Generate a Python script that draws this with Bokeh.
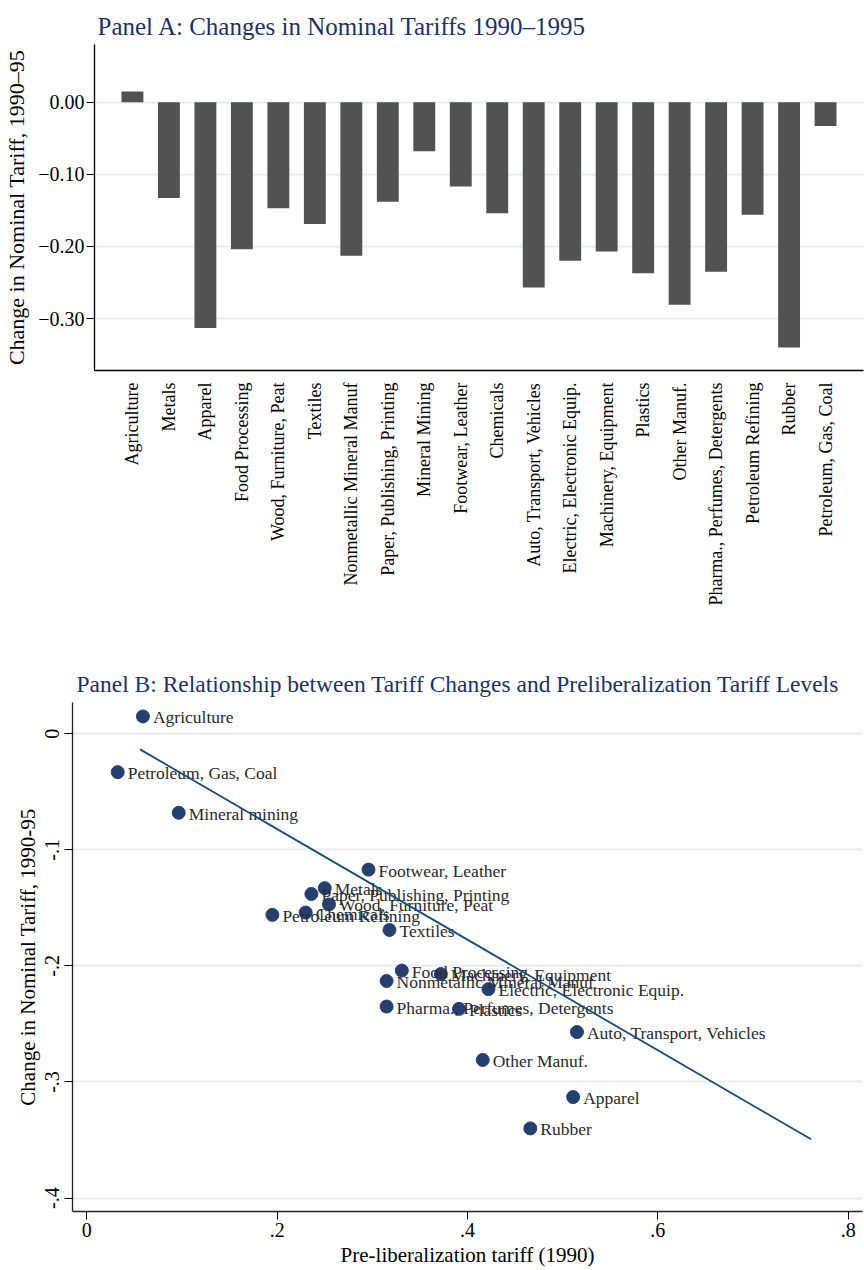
import math
from bokeh.plotting import figure
from bokeh.models import ColumnDataSource, FixedTicker, Range1d
from bokeh.embed import file_html
from bokeh.resources import INLINE
from bokeh.core.properties import value

# ---------------- data ----------------
sectors = [
    "Agriculture", "Metals", "Apparel", "Food Processing", "Wood, Furniture, Peat",
    "Textiles", "Nonmetallic Mineral Manuf", "Paper, Publishing, Printing",
    "Mineral Mining", "Footwear, Leather", "Chemicals", "Auto, Transport, Vehicles",
    "Electric, Electronic Equip.", "Machinery, Equipment", "Plastics", "Other Manuf.",
    "Pharma., Perfumes, Detergents", "Petroleum Refining", "Rubber", "Petroleum, Gas, Coal",
]
tariff_change = [
    0.015, -0.133, -0.313, -0.204, -0.147,
    -0.169, -0.213, -0.138,
    -0.068, -0.117, -0.154, -0.257,
    -0.220, -0.207, -0.237, -0.281,
    -0.235, -0.156, -0.340, -0.033,
]
b_labels = [
    "Agriculture", "Metals", "Apparel", "Food Processing", "Wood, Furniture, Peat",
    "Textiles", "Nonmetallic Mineral Manuf", "Paper, Publishing, Printing",
    "Mineral mining", "Footwear, Leather", "Chemicals", "Auto, Transport, Vehicles",
    "Electric, Electronic Equip.", "Machinery, Equipment", "Plastics", "Other Manuf.",
    "Pharma., Perfumes, Detergents", "Petroleum Refining", "Rubber", "Petroleum, Gas, Coal",
]
pre_tariff = [
    0.059, 0.250, 0.511, 0.331, 0.2545,
    0.318, 0.315, 0.236,
    0.0966, 0.296, 0.230, 0.515,
    0.422, 0.372, 0.391, 0.416,
    0.315, 0.195, 0.466, 0.0325,
]
fit_x = [0.056, 0.761]
fit_y = [-0.0134, -0.3494]

a_yticks = [0.0, -0.1, -0.2, -0.3]
a_ytick_labels = ["0.00", "\u22120.10", "\u22120.20", "\u22120.30"]
b_xticks = [0.0, 0.2, 0.4, 0.6, 0.8]
b_xtick_labels = ["0", ".2", ".4", ".6", ".8"]
b_yticks = [0.0, -0.1, -0.2, -0.3, -0.4]
b_ytick_labels = ["0", "-.1", "-.2", "-.3", "-.4"]

# ---------------- style ----------------
FONT = "Liberation Serif"
TITLE_COLOR = "#1f3160"
GRID = "#e6eef1"
BAR = "#525252"
DOT = "#26406e"
FIT = "#1a4a78"

# ---------------- Panel A ----------------
idx = list(range(len(sectors)))
src_a = ColumnDataSource(dict(x=idx, top=tariff_change, name=sectors))

pA = figure(width=864, height=640,
            x_range=Range1d(-1.04, len(sectors) - 1 + 1.04),
            y_range=Range1d(-0.372, 0.08),
            output_backend="svg", toolbar_location=None,
            min_border_left=94, min_border_right=1, min_border_top=44, min_border_bottom=270)
pA.vbar(x="x", top="top", bottom=0, width=0.6, source=src_a,
        fill_color=BAR, line_color=None)

pA.title.text = "Panel A: Changes in Nominal Tariffs 1990\u20131995"
pA.title.align = "left"
pA.title.offset = 3
pA.title.text_font = FONT
pA.title.text_font_size = "25px"
pA.title.text_font_style = "normal"
pA.title.text_color = TITLE_COLOR
pA.title.standoff = 10

pA.outline_line_color = None
pA.background_fill_color = "white"
pA.border_fill_color = "white"
pA.xgrid.visible = False
pA.ygrid.grid_line_color = GRID
pA.ygrid.grid_line_width = 2

pA.xaxis.ticker = FixedTicker(ticks=idx)
pA.xaxis.major_label_overrides = {i: s for i, s in zip(idx, sectors)}
pA.xaxis.major_label_orientation = math.pi / 2
pA.xaxis.major_label_text_font = FONT
pA.xaxis.major_label_text_font_size = "18px"
pA.xaxis.major_label_text_color = "black"
pA.xaxis.major_tick_line_color = None
pA.xaxis.minor_tick_line_color = None
pA.xaxis.major_label_standoff = 6
pA.xaxis.axis_line_color = "black"
pA.xaxis.axis_line_width = 1.6

pA.yaxis.ticker = FixedTicker(ticks=a_yticks)
pA.ygrid.ticker = FixedTicker(ticks=a_yticks)
pA.yaxis.major_label_overrides = {t: s for t, s in zip(a_yticks, a_ytick_labels)}
pA.yaxis.major_label_text_font = FONT
pA.yaxis.major_label_text_font_size = "20px"
pA.yaxis.major_label_text_color = "black"
pA.yaxis.major_tick_out = 8
pA.yaxis.major_tick_in = 0
pA.yaxis.major_label_standoff = 2
pA.yaxis.minor_tick_line_color = None
pA.yaxis.axis_line_color = "black"
pA.yaxis.axis_line_width = 1.3
pA.yaxis.axis_label = "Change in Nominal Tariff, 1990\u201395"
pA.yaxis.axis_label_text_font = FONT
pA.yaxis.axis_label_text_font_size = "22px"
pA.yaxis.axis_label_text_font_style = "normal"
pA.yaxis.axis_label_text_color = "black"
pA.yaxis.axis_label_standoff = 6

# ---------------- Panel B ----------------
src_b = ColumnDataSource(dict(x=pre_tariff, y=tariff_change, label=b_labels))

pB = figure(width=864, height=630,
            x_range=Range1d(-0.015, 0.815),
            y_range=Range1d(-0.4116, 0.027),
            output_backend="svg", toolbar_location=None,
            min_border_left=72, min_border_right=2, min_border_top=62, min_border_bottom=59)
pB.scatter(x="x", y="y", size=13, source=src_b, fill_color=DOT, line_color=DOT)
pB.text(x="x", y="y", text="label", source=src_b, x_offset=10, y_offset=1,
        text_baseline="middle", text_align="left",
        text_font=value(FONT), text_font_size="17.5px", text_color="#2a2a2a")
pB.line(fit_x, fit_y, line_color=FIT, line_width=1.8)

pB.title.text = "Panel B: Relationship between Tariff Changes and Preliberalization Tariff Levels"
pB.title.align = "left"
pB.title.offset = 4
pB.title.text_font = FONT
pB.title.text_font_size = "23.5px"
pB.title.text_font_style = "normal"
pB.title.text_color = TITLE_COLOR
pB.title.standoff = 11

pB.outline_line_color = None
pB.background_fill_color = "white"
pB.border_fill_color = "white"
pB.xgrid.visible = False
pB.ygrid.grid_line_color = GRID
pB.ygrid.grid_line_width = 2

pB.xaxis.ticker = FixedTicker(ticks=b_xticks)
pB.xaxis.major_label_overrides = {t: s for t, s in zip(b_xticks, b_xtick_labels)}
pB.xaxis.major_label_text_font = FONT
pB.xaxis.major_label_text_font_size = "20px"
pB.xaxis.major_label_text_color = "black"
pB.xaxis.major_tick_out = 8
pB.xaxis.major_tick_in = 0
pB.xaxis.major_label_standoff = 3
pB.xaxis.minor_tick_line_color = None
pB.xaxis.axis_line_color = "#222222"
pB.xaxis.axis_line_width = 1.3
pB.xaxis.axis_label = "Pre-liberalization tariff (1990)"
pB.xaxis.axis_label_text_font = FONT
pB.xaxis.axis_label_text_font_size = "21px"
pB.xaxis.axis_label_text_font_style = "normal"
pB.xaxis.axis_label_text_color = "black"
pB.xaxis.axis_label_standoff = 3

pB.yaxis.ticker = FixedTicker(ticks=b_yticks)
pB.ygrid.ticker = FixedTicker(ticks=b_yticks)
pB.yaxis.major_label_overrides = {t: s for t, s in zip(b_yticks, b_ytick_labels)}
pB.yaxis.major_label_orientation = "vertical"
pB.yaxis.major_label_text_font = FONT
pB.yaxis.major_label_text_font_size = "20px"
pB.yaxis.major_label_text_color = "black"
pB.yaxis.major_tick_out = 8
pB.yaxis.major_tick_in = 0
pB.yaxis.major_label_standoff = 5
pB.yaxis.minor_tick_line_color = None
pB.yaxis.axis_line_color = "#222222"
pB.yaxis.axis_line_width = 1.3
pB.yaxis.axis_label = "Change in Nominal Tariff, 1990-95"
pB.yaxis.axis_label_text_font = FONT
pB.yaxis.axis_label_text_font_size = "21px"
pB.yaxis.axis_label_text_font_style = "normal"
pB.yaxis.axis_label_text_color = "black"
pB.yaxis.axis_label_standoff = 3

open("out.html", "w").write(file_html([pA, pB], INLINE))
